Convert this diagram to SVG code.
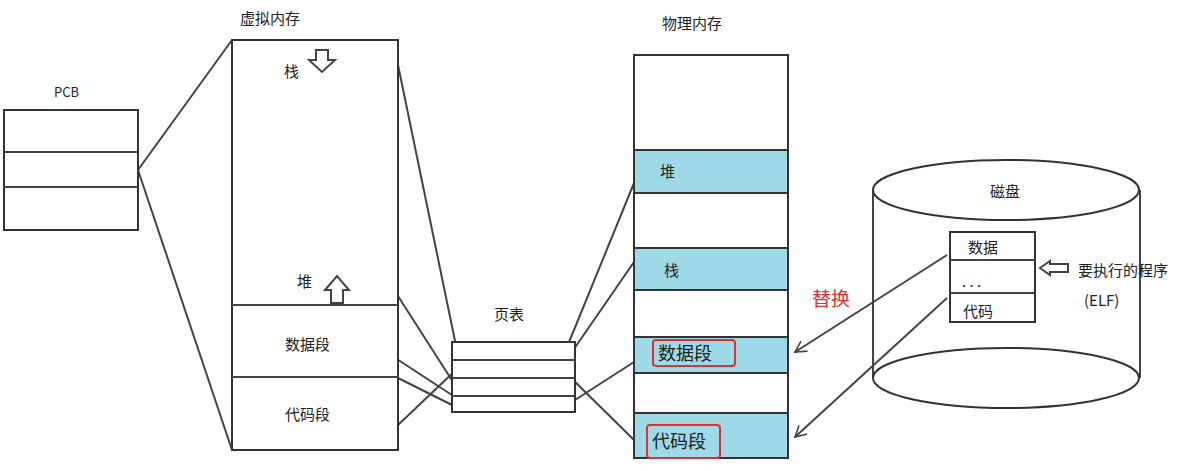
<svg xmlns="http://www.w3.org/2000/svg" width="1192" height="471" viewBox="0 0 1192 471">
<defs>
<style>
.b{fill:#fff;stroke:#333;stroke-width:2}
.l{stroke:#444;stroke-width:2;fill:none}
.f{fill:#9dd9e6;stroke:#333;stroke-width:2}
.t{font-family:"Noto Sans CJK SC","Noto Sans",sans-serif;font-size:15px;fill:#222}
.big{font-size:18px}
.r{fill:none;stroke:#e03030;stroke-width:2}
</style>
<marker id="a" markerWidth="14" markerHeight="14" refX="12" refY="7" orient="auto" markerUnits="userSpaceOnUse"><path d="M1,1 L12,7 L1,13" fill="none" stroke="#444" stroke-width="1.6"/></marker>
</defs>
<rect width="1192" height="471" fill="#fff"/>
<g id="connectors">
<path class="l" d="M138,170 L232,40 M138,170 L232,450"/>
<path class="l" d="M398,65 L460,365 M380,268 L455,385 M383,350 L455,397 M398,378 L452,405 M398,425 L458,368"/>
<path class="l" d="M565,352 L634,183 M565,362 L634,262 M575,400 L634,362 M565,372 L634,440"/>
<path class="l" d="M947,255 L795,352" marker-end="url(#a)"/>
<path class="l" d="M947,298 L795,437" marker-end="url(#a)"/>
</g>
<g id="pcb">
<text class="t" x="54" y="97" style="font-size:13px">PCB</text>
<rect class="b" x="4" y="110" width="134" height="120"/>
<path class="l" d="M4,152 H138 M4,187 H138"/>
</g>
<g id="vmem">
<text class="t" x="240" y="24">虚拟内存</text>
<rect class="b" x="232" y="40" width="166" height="410" fill="none"/>
<path class="l" d="M232,305 H398 M232,377 H398"/>
<text class="t" x="284" y="77">栈</text>
<path d="M316,50 H328 V60 H335 L322,72 L309,60 H316 Z" fill="#fff" stroke="#444" stroke-width="2"/>
<text class="t" x="297" y="287">堆</text>
<path d="M331,303 V290 H325 L337,276 L349,290 H343 V303 Z" fill="#fff" stroke="#444" stroke-width="2"/>
<text class="t" x="285" y="350">数据段</text>
<text class="t" x="285" y="420">代码段</text>
</g>
<g id="pagetable">
<text class="t" x="494" y="320">页表</text>
<rect class="b" x="452" y="342" width="123" height="70" fill="none"/>
<path class="l" d="M452,360 H575 M452,378 H575 M452,396 H575"/>
</g>
<g id="pmem">
<text class="t" x="662" y="29">物理内存</text>
<rect class="b" x="634" y="55" width="154" height="403"/>
<rect class="f" x="634" y="150" width="154" height="43"/>
<rect class="f" x="634" y="248" width="154" height="42"/>
<rect class="f" x="634" y="337" width="154" height="36"/>
<rect class="f" x="634" y="413" width="154" height="45"/>
<text class="t" x="660" y="177">堆</text>
<text class="t" x="664" y="276">栈</text>
<text class="t big" x="658" y="360">数据段</text>
<rect class="r" x="653" y="340" width="82" height="26" rx="3"/>
<text class="t big" x="652" y="448">代码段</text>
<rect class="r" x="647" y="425" width="73" height="33" rx="3"/>
</g>
<text x="812" y="306" font-family="Noto Sans CJK SC,sans-serif" font-size="19" fill="#e03030">替换</text>
<g id="disk">
<path class="l" d="M873,190 V378 M1140,190 V378"/>
<ellipse class="b" cx="1006" cy="190" rx="133" ry="30"/>
<ellipse class="b" cx="1006" cy="378" rx="133" ry="30"/>
<text class="t" x="990" y="197">磁盘</text>
<rect class="b" x="950" y="232" width="85" height="90"/>
<path class="l" d="M950,260 H1035 M950,293 H1035"/>
<text class="t" x="968" y="253">数据</text>
<text class="t" x="962" y="287">. . .</text>
<text class="t" x="963" y="317">代码</text>
<path d="M1040,268 L1050,261 V264 H1068 V272 H1050 V275 Z" fill="#fff" stroke="#444" stroke-width="2"/>
<text class="t" x="1078" y="276">要执行的程序</text>
<text class="t" x="1084" y="306">(ELF)</text>
</g>
</svg>
